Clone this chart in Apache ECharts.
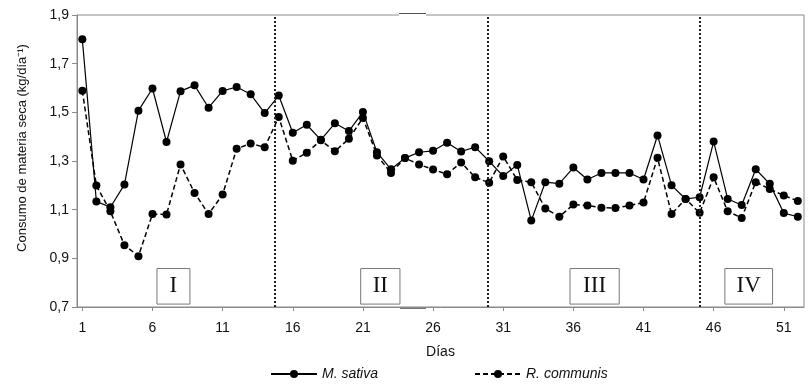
<!DOCTYPE html>
<html>
<head>
<meta charset="utf-8">
<script src="https://cdn.jsdelivr.net/npm/echarts@6/dist/echarts.min.js"></script>
<style>
  html, body { margin: 0; padding: 0; background: #fff; }
  #chart { width: 812px; height: 385px; }
</style>
</head>
<body>
<div id="chart"></div>
<script>
// daily dry matter intake
const sativa = [1.80, 1.134, 1.11, 1.203, 1.507, 1.598, 1.378, 1.587, 1.611, 1.519,
  1.588, 1.604, 1.574, 1.497, 1.569, 1.416, 1.449, 1.387, 1.455, 1.423,
  1.501, 1.336, 1.266, 1.312, 1.336, 1.342, 1.375, 1.339, 1.357, 1.299,
  1.238, 1.284, 1.055, 1.213, 1.207, 1.273, 1.224, 1.251, 1.251, 1.251,
  1.224, 1.405, 1.200, 1.144, 1.151, 1.380, 1.144, 1.119, 1.266, 1.206,
  1.086, 1.071];
const communis = [1.589, 1.199, 1.093, 0.954, 0.909, 1.082, 1.08, 1.286, 1.169, 1.082,
  1.162, 1.350, 1.372, 1.356, 1.481, 1.301, 1.334, 1.385, 1.340, 1.391,
  1.477, 1.323, 1.251, 1.312, 1.286, 1.265, 1.246, 1.294, 1.233, 1.211,
  1.319, 1.222, 1.213, 1.105, 1.071, 1.121, 1.117, 1.108, 1.107, 1.117,
  1.129, 1.313, 1.082, 1.144, 1.087, 1.233, 1.093, 1.066, 1.213, 1.185,
  1.158, 1.136];
const xTicks = [1, 6, 11, 16, 21, 26, 31, 36, 41, 46, 51];
const yTicks = [0.7, 0.9, 1.1, 1.3, 1.5, 1.7, 1.9];
const dividers = [14.7, 29.9, 45.0];
const phases = ['I', 'II', 'III', 'IV'];
// box extents for the phase labels, in axis units
const phaseBoxes = [[6.32, 8.67], [20.84, 23.64], [35.76, 39.27], [46.8, 50.2]];

const font = 'Liberation Sans, Arial, sans-serif';
const toPairs = arr => arr.map((v, i) => [i + 1, v]);

const chart = echarts.init(document.getElementById('chart'));

const option = {
  animation: false,
  grid: {
    left: 77, right: 8, top: 15, bottom: 78,
    show: true, borderColor: '#8a8a8a', borderWidth: 1
  },
  legend: {
    left: 265, top: 362,
    itemWidth: 46, itemHeight: 10, itemGap: 96,
    textStyle: { fontFamily: font, fontSize: 14, fontStyle: 'italic', color: '#111' },
    data: ['M. sativa', 'R. communis']
  },
  xAxis: {
    type: 'value', min: 0.62, max: 52.44,
    name: 'Días', nameLocation: 'middle', nameGap: 38,
    nameTextStyle: { fontFamily: font, fontSize: 14, color: '#111' },
    axisLine: { lineStyle: { color: '#8a8a8a' } },
    axisTick: { customValues: xTicks, length: 4, lineStyle: { color: '#8a8a8a' } },
    axisLabel: { customValues: xTicks, fontFamily: font, fontSize: 14, color: '#111', margin: 14 },
    splitLine: { show: false }
  },
  yAxis: {
    type: 'value', min: 0.7, max: 1.9,
    axisLine: { show: true, lineStyle: { color: '#8a8a8a' } },
    axisTick: { show: true, customValues: yTicks, length: 5, lineStyle: { color: '#8a8a8a' } },
    axisLabel: {
      customValues: yTicks, fontFamily: font, fontSize: 14, color: '#111', margin: 8,
      formatter: v => v.toFixed(1).replace('.', ',')
    },
    splitLine: { show: false }
  },
  graphic: [
    {
      type: 'text', x: 22, y: 148, rotation: Math.PI / 2,
      style: {
        text: 'Consumo de materia seca (kg/día⁻¹)',
        font: '13px ' + font, fill: '#111',
        textAlign: 'center', textVerticalAlign: 'middle'
      }
    },
    // small offset patch in the frame, as in the scanned figure
    { type: 'rect', shape: { x: 399, y: 14, width: 27, height: 3 }, style: { fill: '#fff' }, z: 10 },
    { type: 'line', shape: { x1: 399, y1: 13.5, x2: 426, y2: 13.5 }, style: { stroke: '#555', lineWidth: 1 }, z: 11 },
    { type: 'line', shape: { x1: 400, y1: 308.5, x2: 426, y2: 308.5 }, style: { stroke: '#777', lineWidth: 1 }, z: 11 }
  ],
  series: [
    {
      name: 'M. sativa', type: 'line', data: toPairs(sativa),
      symbol: 'circle', symbolSize: 8,
      itemStyle: { color: '#000' },
      lineStyle: { color: '#000', width: 1.2 },
      markLine: {
        silent: true, symbol: 'none', label: { show: false },
        lineStyle: { color: '#222', type: 'dotted', width: 2 },
        data: dividers.map(d => ({ xAxis: d }))
      },
      markArea: {
        silent: true,
        itemStyle: { color: '#fff', borderColor: '#777', borderWidth: 1 },
        label: {
          position: 'inside', fontFamily: 'Liberation Serif, Times New Roman, serif',
          fontSize: 23, color: '#111'
        },
        data: phases.map((p, i) => [
          { name: p, xAxis: phaseBoxes[i][0], yAxis: 0.712 },
          { xAxis: phaseBoxes[i][1], yAxis: 0.858 }
        ])
      },
      z: 3
    },
    {
      name: 'R. communis', type: 'line', data: toPairs(communis),
      symbol: 'circle', symbolSize: 8,
      itemStyle: { color: '#000' },
      lineStyle: { color: '#000', width: 1.5, type: [5, 3] },
      z: 3
    }
  ]
};

chart.setOption(option);
</script>
</body>
</html>
